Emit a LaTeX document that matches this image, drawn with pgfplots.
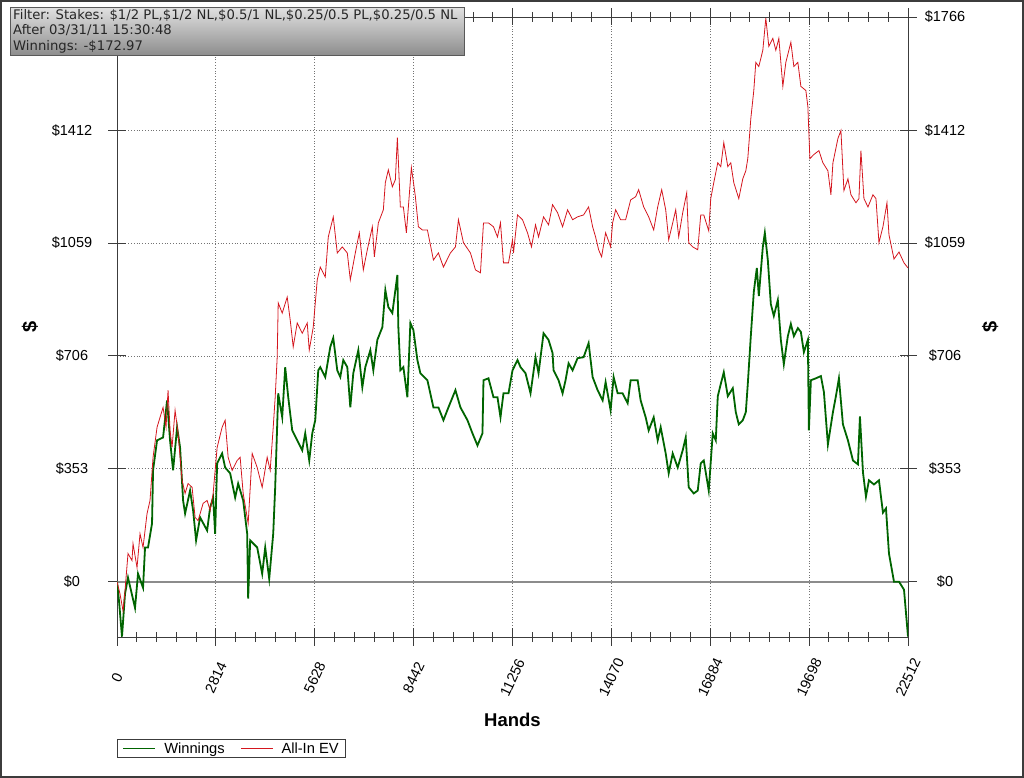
\documentclass[border=0pt]{standalone}
\usepackage{pgfplots}
\pgfplotsset{compat=1.18}
\usepackage{fontspec}
\setmainfont{Liberation Sans}
\newfontfamily\infofont{DejaVu Sans}
\definecolor{wincol}{RGB}{0,100,0}
\definecolor{evcol}{RGB}{212,22,30}
\definecolor{zerocol}{RGB}{140,140,140}
\definecolor{axcol}{RGB}{60,60,60}
\newcommand{\tickfont}{\fontsize{14.5}{17}\selectfont}
\begin{document}
\begin{tikzpicture}
\path[use as bounding box] (0pt,0pt) rectangle (1024pt,778pt);
\draw[axcol, line width=1.6pt] (0.8pt,0.8pt) rectangle (1023.2pt,777.2pt);

\begin{axis}[
  at={(117pt,141pt)}, anchor=south west,
  scale only axis, width=791pt, height=620pt,
  xmin=0, xmax=22512, ymin=-173, ymax=1766,
  scaled x ticks=false, scaled y ticks=false,
  xtick={0,2814,5628,8442,11256,14070,16884,19698,22512},
  xticklabels={0,2814,5628,8442,11256,14070,16884,19698,22512},
  ytick={0,353,706,1059,1412,1766},
  yticklabels={\$0,\$353,\$706,\$1059,\$1412,\$1766},
  minor x tick num=4, minor y tick num=4,
  xtick pos=both, xticklabel pos=lower,
  ytick pos=both, yticklabel pos=left,
  tick align=center,
  major tick length=17pt, minor tick length=10pt,
  axis line style={axcol, line width=0.9pt},
  every tick/.style={axcol, line width=0.9pt},
  grid=major,
  major grid style={black!55, line width=0.8pt, dotted},
  xticklabel style={font=\tickfont, rotate=65, anchor=center},
  xticklabel shift=32pt,
  yticklabel style={font=\tickfont, anchor=center, xshift=-36.5pt},
  xlabel={\bfseries Hands},
  xlabel style={font=\fontsize{18.5}{20}\selectfont, at={(axis description cs:0.5,-0.1330)}, anchor=center},
  ylabel={\bfseries\$},
  ylabel style={font=\fontsize{20}{22}\selectfont, at={(axis description cs:-0.110,0.5)}, anchor=center},
  legend style={at={(axis description cs:0,-0.1645)}, anchor=north west,
    legend columns=2, font=\fontsize{14.7}{16}\selectfont, draw=axcol, line width=0.9pt,
    inner xsep=5pt, inner ysep=1pt,
    /tikz/every odd column/.append style={column sep=6pt},
    /tikz/every even column/.append style={column sep=14pt}},
  legend image code/.code={\draw[#1] (0pt,0pt) -- (32pt,0pt);},
]
\addplot[zerocol, line width=2pt, forget plot] coordinates {(0,0) (22512,0)};

\addplot[wincol, line width=1.8pt] coordinates {
(0,0) (57,-60) (142,-172) (228,-38) (313,13) (513,-82) (598,25) (741,-19) (798,107) (883,107) (997,182) (1026,348) (1140,442) (1311,451) (1425,567) (1510,442) (1596,348) (1710,483) (1795,420) (1881,254) (1938,213) (2080,285) (2166,223) (2251,129) (2365,201) (2565,160) (2650,232) (2736,263) (2793,150) (2850,370) (2992,401) (3078,357) (3220,339) (3363,263) (3448,307) (3591,254) (3705,150) (3733,-53) (3790,129) (3990,107) (4132,25) (4218,107) (4332,9) (4446,150) (4502,295) (4588,589) (4702,514) (4787,671) (4873,577) (4987,473) (5129,442) (5272,411) (5357,464) (5471,379) (5557,464) (5642,505) (5728,661) (5785,671) (5927,640) (6070,734) (6155,762) (6269,661) (6355,640) (6440,693) (6554,671) (6640,545) (6725,652) (6868,724) (6982,608) (7067,671) (7210,724) (7295,661) (7409,756) (7552,796) (7637,912) (7722,859) (7836,840) (7979,959) (8007,796) (8064,661) (8150,671) (8264,577) (8349,809) (8435,787) (8549,693) (8634,652) (8834,630) (9005,545) (9147,545) (9290,505) (9432,545) (9632,599) (9774,545) (9974,505) (10116,464) (10259,426) (10401,464) (10430,630) (10572,636) (10714,577) (10828,577) (10914,514) (10999,589) (11142,589) (11256,661) (11398,693) (11484,671) (11626,652) (11769,589) (11911,702) (11997,652) (12139,777) (12282,756) (12396,715) (12424,661) (12567,630) (12681,589) (12766,630) (12852,683) (12966,661) (13108,699) (13279,702) (13422,746) (13536,640) (13678,599) (13821,567) (13906,624) (14048,536) (14134,640) (14248,589) (14390,589) (14533,558) (14618,630) (14818,630) (14903,567) (15046,514) (15131,473) (15274,514) (15388,442) (15473,483) (15616,401) (15701,339) (15815,401) (15958,357) (16100,411) (16186,451) (16271,295) (16414,276) (16528,285) (16613,370) (16699,379) (16841,285) (16955,464) (17041,442) (17098,580) (17183,618) (17269,655) (17383,580) (17525,605) (17611,530) (17696,492) (17810,505) (17896,530) (17952,618) (18038,768) (18123,906) (18209,981) (18266,893) (18380,1047) (18437,1091) (18522,1006) (18608,868) (18693,831) (18807,881) (18893,756) (18978,680) (19092,768) (19178,806) (19263,768) (19377,793) (19463,781) (19548,718) (19662,756) (19691,473) (19748,630) (19890,636) (20033,643) (20118,593) (20232,429) (20375,530) (20460,580) (20546,636) (20660,492) (20802,442) (20945,379) (21087,367) (21144,517) (21230,342) (21315,266) (21400,317) (21543,304) (21685,317) (21799,216) (21885,229) (21970,88) (22113,0) (22255,0) (22398,-25) (22512,-172)
};
\addlegendentry{Winnings}

\addplot[evcol, line width=0.8pt] coordinates {
(0,0) (85,-38) (171,-91) (228,-28) (313,88) (427,66) (456,119) (570,44) (655,150) (741,107) (855,213) (940,254) (1026,389) (1140,483) (1225,514) (1311,545) (1396,483) (1453,599) (1510,473) (1567,420) (1653,536) (1738,464) (1852,317) (1938,276) (2023,307) (2137,295) (2223,201) (2308,191) (2451,245) (2565,254) (2650,223) (2736,276) (2850,420) (2992,483) (3078,505) (3163,389) (3277,348) (3420,379) (3505,389) (3591,276) (3733,182) (3847,401) (3990,357) (4132,295) (4274,389) (4360,348) (4446,483) (4502,577) (4559,702) (4588,872) (4702,840) (4844,890) (4930,818) (5015,734) (5129,809) (5272,777) (5414,809) (5471,724) (5585,796) (5699,944) (5785,984) (5927,953) (6013,1078) (6155,1141) (6269,1028) (6412,1047) (6554,1028) (6640,944) (6782,1028) (6896,1091) (7010,975) (7124,1038) (7267,1110) (7324,1016) (7438,1122) (7580,1163) (7637,1248) (7722,1288) (7836,1235) (7922,1257) (7979,1389) (8064,1172) (8150,1172) (8236,1091) (8378,1295) (8492,1204) (8577,1110) (8691,1100) (8834,1100) (9005,1006) (9147,1028) (9290,984) (9489,1028) (9632,1047) (9717,1132) (9860,1060) (10059,1028) (10202,975) (10344,966) (10430,1122) (10572,1122) (10714,1110) (10828,1078) (10914,1122) (10999,997) (11142,997) (11256,1069) (11284,1028) (11398,1147) (11541,1132) (11683,1091) (11797,1047) (11911,1116) (11997,1078) (12139,1141) (12282,1116) (12396,1179) (12538,1154) (12681,1110) (12823,1163) (12966,1132) (13108,1141) (13279,1147) (13422,1172) (13536,1110) (13621,1078) (13707,1038) (13792,1016) (13906,1091) (14048,1047) (14105,1122) (14191,1163) (14333,1132) (14476,1132) (14618,1194) (14761,1204) (14846,1226) (14989,1172) (15131,1141) (15274,1100) (15388,1172) (15502,1226) (15616,1163) (15701,1069) (15815,1122) (15901,1163) (15986,1078) (16100,1154) (16214,1216) (16271,1060) (16385,1047) (16528,1038) (16613,1147) (16699,1147) (16841,1097) (16898,1198) (16984,1248) (17098,1310) (17183,1298) (17269,1373) (17383,1298) (17468,1310) (17554,1248) (17696,1198) (17810,1260) (17896,1285) (17952,1323) (18038,1448) (18123,1536) (18180,1624) (18266,1611) (18380,1662) (18465,1762) (18551,1674) (18665,1699) (18750,1662) (18836,1699) (18950,1549) (19035,1624) (19178,1687) (19263,1611) (19377,1624) (19463,1549) (19605,1536) (19662,1486) (19719,1323) (19833,1336) (19976,1348) (20090,1310) (20232,1285) (20318,1210) (20375,1310) (20517,1386) (20603,1411) (20688,1223) (20802,1260) (20888,1210) (21030,1185) (21115,1198) (21172,1348) (21258,1198) (21372,1172) (21514,1210) (21600,1198) (21685,1060) (21799,1110) (21913,1185) (21970,1085) (22113,1009) (22255,1031) (22398,997) (22512,981)
};
\addlegendentry{All-In EV}
\end{axis}

\begin{axis}[
  at={(117pt,141pt)}, anchor=south west,
  scale only axis, width=791pt, height=620pt,
  xmin=0, xmax=22512, ymin=-173, ymax=1766,
  hide x axis,
  axis y line*=right,
  y axis line style={draw=none},
  ytick={0,353,706,1059,1412,1766},
  yticklabels={\$0,\$353,\$706,\$1059,\$1412,\$1766},
  minor y tick num=0, major tick length=0pt,
  yticklabel style={font=\tickfont, anchor=center, xshift=37pt},
  ylabel={\bfseries\$},
  ylabel style={font=\fontsize{20}{22}\selectfont, at={(axis description cs:1.104,0.5)}, anchor=center, rotate=0},
]
\end{axis}

\node[draw=black!65, line width=0.9pt, top color=black!12, bottom color=black!45,
  minimum width=454pt, minimum height=48pt, anchor=north west, inner sep=0pt] at (10pt,771pt) {};
\node[anchor=north west, align=left, inner sep=0pt, font=\infofont\fontsize{13.2}{15.5}\selectfont, text=black!85]
  at (13pt,769pt) {Filter: Stakes: \$1/2 PL,\$1/2 NL,\$0.5/1 NL,\$0.25/0.5 PL,\$0.25/0.5 NL\\After 03/31/11 15:30:48\\Winnings: -\$172.97};
\end{tikzpicture}
\end{document}
